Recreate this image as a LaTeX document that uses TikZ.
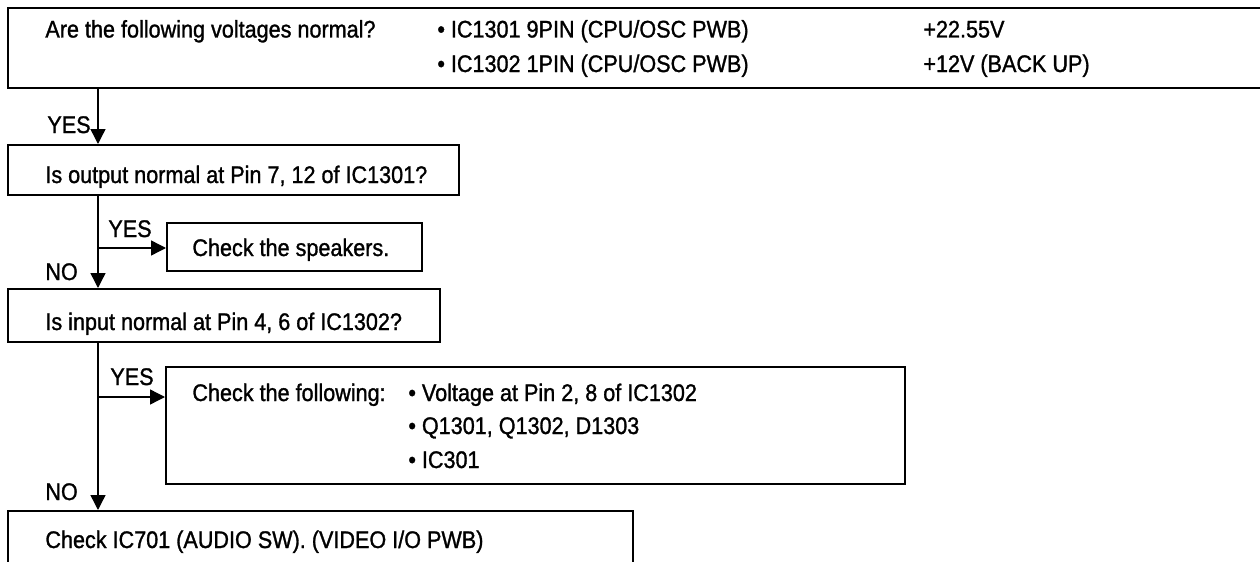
\documentclass[tikz,border=0pt]{standalone}
\usepackage{fontspec}
\setmainfont{Liberation Sans}[FakeStretch=0.9, FakeBold=1.2]
\usetikzlibrary{arrows.meta, fit, positioning}

\tikzset{
  box/.style={draw, line width=1pt, inner sep=0pt},
  lbl/.style={anchor=base west, inner sep=0pt, font=\fontsize{12pt}{14pt}\selectfont},
  arr/.style={line width=0.7pt, -{Triangle[width=7.5pt, length=7.5pt]}},
}

\begin{document}
\begin{tikzpicture}[x=0.5pt, y=-0.5pt]
            \useasboundingbox (0,0) rectangle (1260,562);
            \clip (0,0) rectangle (1260,562);

            % Voltage check
            \node[box, fit={(8,8) (1275,88)}] (volt) {};
            \node[lbl] (voltq) at (45,37.5) {Are the following voltages normal?};
            \node[lbl] (pin9) at (437,37.5) {• IC1301 9PIN (CPU/OSC PWB)};
            \node[lbl] (val9) at (923,37.5) {+22.55V};
            \node[lbl] (pin1) at (437,72) {• IC1302 1PIN (CPU/OSC PWB)};
            \node[lbl] (val1) at (923,72) {+12V (BACK UP)};

            % Output check
            \node[box, fit={(8,145) (459,195)}] (outq) {};
            \node[lbl] (outqt) at (45,183) {Is output normal at Pin 7, 12 of IC1301?};
            \node[box, fit={(167,223) (422,271)}] (spk) {};
            \node[lbl] (spkt) at (192,256) {Check the speakers.};

            % Input check
            \node[box, fit={(8,289) (440,342)}] (inq) {};
            \node[lbl] (inqt) at (45,330) {Is input normal at Pin 4, 6 of IC1302?};
            \node[box, fit={(166,367) (905,484)}] (chk) {};
            \node[lbl] (chkt) at (192,401) {Check the following:};
            \node[lbl] (chk1) at (408,401) {• Voltage at Pin 2, 8 of IC1302};
            \node[lbl] (chk2) at (408,434) {• Q1301, Q1302, D1303};
            \node[lbl] (chk3) at (408,468) {• IC301};

            % Last step
            \node[box, fit={(8,511) (633,575)}] (ic701) {};
            \node[lbl] (ic701t) at (45,548) {Check IC701 (AUDIO SW). (VIDEO I/O PWB)};

            % Labels
            \node[lbl] (yes1) at (47,133) {YES};
            \node[lbl] (yes2) at (108,237) {YES};
            \node[lbl] (no1) at (45,280) {NO};
            \node[lbl] (yes3) at (110,385) {YES};
            \node[lbl] (no2) at (45,500) {NO};

            % Connections
            \coordinate (trunk) at (98,0);
            \coordinate (fork1) at (98,248);
            \coordinate (fork2) at (98,397);
            \draw[arr] (volt.south -| trunk) -- (outq.north -| trunk);
            \draw[arr] (outq.south -| trunk) -- (inq.north -| trunk);
            \draw[arr] (fork1) -- (fork1 -| spk.west);
            \draw[arr] (inq.south -| trunk) -- (ic701.north -| trunk);
            \draw[arr] (fork2) -- (fork2 -| chk.west);
        \end{tikzpicture}
\end{document}
